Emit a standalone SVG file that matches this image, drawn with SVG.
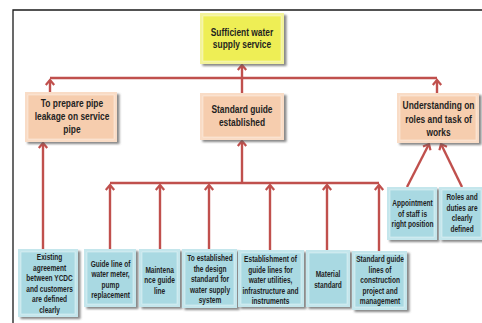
<svg xmlns="http://www.w3.org/2000/svg" width="482" height="323" viewBox="0 0 482 323">
  <defs>
    <filter id="soft" x="-10%" y="-10%" width="130%" height="130%">
      <feGaussianBlur stdDeviation="0.8"/>
    </filter>
    <marker id="arrow" markerUnits="userSpaceOnUse" markerWidth="12" markerHeight="12" viewBox="-6 -6 12 12" refX="0" refY="0" orient="auto">
      <path d="M-5,-4.2 L0,0 L-5,4.2" fill="none" stroke="#c0504d" stroke-width="2.2" stroke-linejoin="miter"/>
    </marker>
  </defs>
  <style>
    .bg { fill: #ffffff; }
    .frame { fill: none; stroke: #1a1a1a; stroke-width: 1.3; }
    .shadow { fill: #5e5e5e; opacity: 0.75; filter: url(#soft); }
    .inner { stroke: #ffffff; stroke-opacity: 0.45; stroke-width: 0.8; }
    .yellow .face { fill: #f3f39a; }
    .yellow .inner { fill: #eeee55; }
    .peach .face { fill: #f9dcc6; }
    .peach .inner { fill: #f6cdae; }
    .blue .face { fill: #c4e6ec; }
    .blue .inner { fill: #a9d9e2; }
    .link { fill: none; stroke: #c0504d; stroke-width: 2.4; }
    .arrow { marker-end: url(#arrow); }
    text { font-family: "Liberation Sans", Arial, sans-serif; font-weight: bold; fill: #1f1f1f; text-anchor: middle;
           transform-box: fill-box; transform-origin: center; }
    .big { font-size: 10.5px; transform: scaleX(0.8); }
    .small { font-size: 9px; transform: scaleX(0.73); }
  </style>

  <rect class="bg" x="0" y="0" width="482" height="323"/>
  <path class="frame" d="M13,323 L13,10 L482,10"/>

  <!-- connectors -->
  <g id="connectors">
    <!-- upper tier -->
    <path class="link" d="M50,78 L437,78"/>
    <path class="link arrow" d="M50,93 L50,80"/>
    <path class="link arrow" d="M437,93 L437,80"/>
    <path class="link arrow" d="M242,93 L242,65"/>
    <!-- left branch -->
    <path class="link arrow" d="M43,249 L43,143"/>
    <!-- middle branch bus -->
    <path class="link" d="M110,183 L379,183"/>
    <path class="link arrow" d="M242,183 L242,141"/>
    <path class="link arrow" d="M110,249 L110,185"/>
    <path class="link arrow" d="M160,249 L160,185"/>
    <path class="link arrow" d="M209,249 L209,185"/>
    <path class="link arrow" d="M270,250 L270,185"/>
    <path class="link arrow" d="M327,250 L327,185"/>
    <path class="link arrow" d="M379,251 L379,185"/>
    <!-- right branch -->
    <path class="link arrow" d="M407,187 L429,144"/>
    <path class="link arrow" d="M462,187 L441,144"/>
  </g>

  <!-- goal -->
  <g id="goal" class="yellow">
    <rect class="shadow" x="202.5" y="15" width="84" height="51"/>
    <rect class="face" x="200" y="13" width="84" height="51"/>
    <rect class="inner" x="203" y="16" width="78" height="45"/>
    <text class="big"><tspan x="242" y="36.5">Sufficient water</tspan><tspan x="242" y="48.5">supply service</tspan></text>
  </g>

  <!-- second tier -->
  <g id="leakage" class="peach">
    <rect class="shadow" x="27.5" y="94" width="92" height="50"/>
    <rect class="face" x="25" y="92" width="92" height="50"/>
    <rect class="inner" x="28" y="95" width="86" height="44"/>
    <text class="big"><tspan x="72" y="107">To prepare pipe</tspan><tspan x="72" y="120">leakage on service</tspan><tspan x="72" y="133">pipe</tspan></text>
  </g>
  <g id="guide" class="peach">
    <rect class="shadow" x="202.5" y="95" width="84" height="47"/>
    <rect class="face" x="200" y="93" width="84" height="47"/>
    <rect class="inner" x="203" y="96" width="78" height="41"/>
    <text class="big"><tspan x="242" y="113.5">Standard guide</tspan><tspan x="242" y="126">established</tspan></text>
  </g>
  <g id="roles" class="peach">
    <rect class="shadow" x="399.5" y="95" width="82" height="50"/>
    <rect class="face" x="397" y="93" width="82" height="50"/>
    <rect class="inner" x="400" y="96" width="76" height="44"/>
    <text class="big"><tspan x="438.5" y="109.5">Understanding  on</tspan><tspan x="438.5" y="123">roles and task  of</tspan><tspan x="438.5" y="136.5">works</tspan></text>
  </g>

  <!-- third tier -->
  <g id="agreement" class="blue">
    <rect class="shadow" x="20.5" y="251" width="60" height="68"/>
    <rect class="face" x="18" y="249" width="60" height="68"/>
    <rect class="inner" x="21" y="252" width="54" height="62"/>
    <text class="small"><tspan x="49.5" y="260.5">Existing</tspan><tspan x="49.5" y="271">agreement</tspan><tspan x="49.5" y="281.5">between YCDC</tspan><tspan x="49.5" y="292">and customers</tspan><tspan x="49.5" y="302.5">are defined</tspan><tspan x="49.5" y="313">clearly</tspan></text>
  </g>
  <g id="meter" class="blue">
    <rect class="shadow" x="86.5" y="251" width="52" height="58"/>
    <rect class="face" x="84" y="249" width="52" height="58"/>
    <rect class="inner" x="87" y="252" width="46" height="52"/>
    <text class="small"><tspan x="110.5" y="267">Guide line of</tspan><tspan x="110.5" y="277.5">water meter,</tspan><tspan x="110.5" y="288">pump</tspan><tspan x="110.5" y="298.5">replacement</tspan></text>
  </g>
  <g id="maintenance" class="blue">
    <rect class="shadow" x="141.5" y="251" width="41" height="58"/>
    <rect class="face" x="139" y="249" width="41" height="58"/>
    <rect class="inner" x="142" y="252" width="35" height="52"/>
    <text class="small"><tspan x="159.5" y="273">Maintena</tspan><tspan x="159.5" y="283.5">nce guide</tspan><tspan x="159.5" y="294">line</tspan></text>
  </g>
  <g id="design" class="blue">
    <rect class="shadow" x="184.5" y="251" width="55" height="59"/>
    <rect class="face" x="182" y="249" width="55" height="59"/>
    <rect class="inner" x="185" y="252" width="49" height="53"/>
    <text class="small"><tspan x="210" y="261.5">To established</tspan><tspan x="210" y="272">the design</tspan><tspan x="210" y="282.5">standard for</tspan><tspan x="210" y="293">water supply</tspan><tspan x="210" y="303.5">system</tspan></text>
  </g>
  <g id="utilities" class="blue">
    <rect class="shadow" x="240.5" y="252" width="66" height="57"/>
    <rect class="face" x="238" y="250" width="66" height="57"/>
    <rect class="inner" x="241" y="253" width="60" height="51"/>
    <text class="small"><tspan x="270.5" y="262.5">Establishment of</tspan><tspan x="270.5" y="273">guide lines for</tspan><tspan x="270.5" y="283.5">water utilities,</tspan><tspan x="270.5" y="294">infrastructure and</tspan><tspan x="270.5" y="304">instruments</tspan></text>
  </g>
  <g id="material" class="blue">
    <rect class="shadow" x="308.5" y="252" width="44" height="57"/>
    <rect class="face" x="306" y="250" width="44" height="57"/>
    <rect class="inner" x="309" y="253" width="38" height="51"/>
    <text class="small"><tspan x="328" y="277">Material</tspan><tspan x="328" y="288">standard</tspan></text>
  </g>
  <g id="construction" class="blue">
    <rect class="shadow" x="354.5" y="253" width="55" height="59"/>
    <rect class="face" x="352" y="251" width="55" height="59"/>
    <rect class="inner" x="355" y="254" width="49" height="53"/>
    <text class="small"><tspan x="380" y="262.5">Standard guide</tspan><tspan x="380" y="273">lines of</tspan><tspan x="380" y="283.5">construction</tspan><tspan x="380" y="294">project and</tspan><tspan x="380" y="304.5">management</tspan></text>
  </g>
  <g id="appointment" class="blue">
    <rect class="shadow" x="389.5" y="189" width="50" height="53"/>
    <rect class="face" x="387" y="187" width="50" height="53"/>
    <rect class="inner" x="390" y="190" width="44" height="47"/>
    <text class="small"><tspan x="412.5" y="206.5">Appointment</tspan><tspan x="412.5" y="217">of staff is</tspan><tspan x="412.5" y="227.5">right position</tspan></text>
  </g>
  <g id="duties" class="blue">
    <rect class="shadow" x="441.5" y="189" width="45" height="53"/>
    <rect class="face" x="439" y="187" width="45" height="53"/>
    <rect class="inner" x="442" y="190" width="39" height="47"/>
    <text class="small"><tspan x="462" y="200.5">Roles and</tspan><tspan x="462" y="211">duties are</tspan><tspan x="462" y="221.5">clearly</tspan><tspan x="462" y="232">defined</tspan></text>
  </g>
</svg>
